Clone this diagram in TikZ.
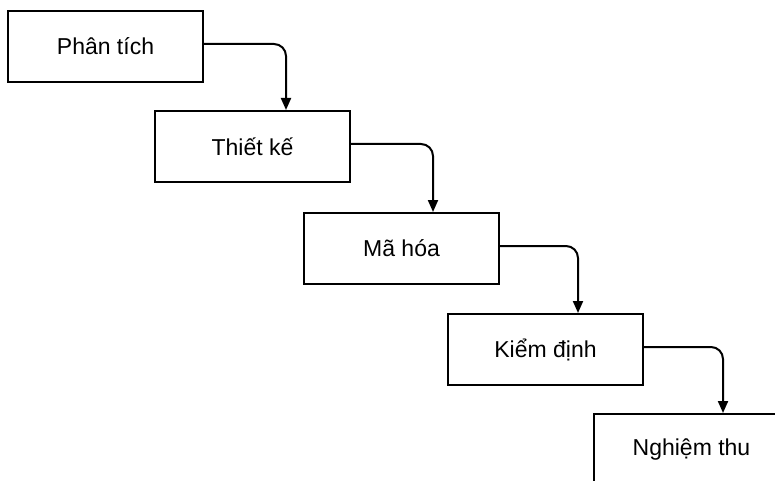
\documentclass[tikz,border=0pt]{standalone}
\usepackage{fontspec}
\setmainfont{Liberation Sans}
\usetikzlibrary{arrows.meta}
\begin{document}
\begin{tikzpicture}[x=1pt,y=1pt,
  stage/.style={draw, line width=2pt, minimum width=195pt, minimum height=71pt,
    anchor=north west, inner sep=0pt, font=\fontsize{23}{27}\selectfont},
  flow/.style={line width=2pt, rounded corners=12pt,
    -{Triangle[length=12pt,width=10pt]}}]
  \useasboundingbox (0,0) rectangle (775,480);
  \clip (0,0) rectangle (775,480);
  \node[stage] (s1) at (7,470) {Phân tích};
  \node[stage] (s2) at (154,370) {Thiết kế};
  \node[stage] (s3) at (303,268) {Mã hóa};
  \node[stage] (s4) at (447,167) {Kiểm định};
  \node[stage] (s5) at (593,67) {Nghiệm thu};
  \draw[flow] ([yshift=2.5pt]s1.east) -| ([xshift=132pt]s2.north west);
  \draw[flow] ([yshift=2.5pt]s2.east) -| ([xshift=130pt]s3.north west);
  \draw[flow] ([yshift=2.5pt]s3.east) -| ([xshift=131pt]s4.north west);
  \draw[flow] ([yshift=2.5pt]s4.east) -| ([xshift=130pt]s5.north west);
\end{tikzpicture}
\end{document}
